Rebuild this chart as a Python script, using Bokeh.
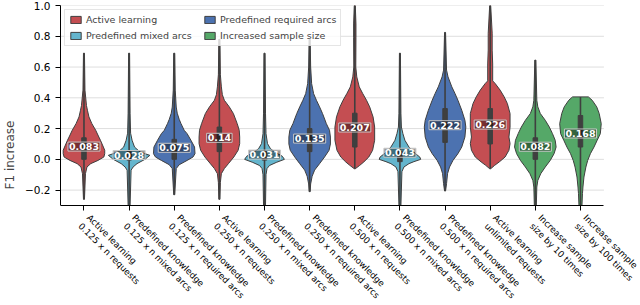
import math
from bokeh.plotting import figure
from bokeh.models import Range1d, FixedTicker, Legend, LegendItem
from bokeh.core.properties import value
from bokeh.embed import file_html
from bokeh.resources import INLINE

# ---------------- data ----------------
tick_labels = [
    "Active learning\n0.125 x n requests",
    "Predefined knowledge\n0.125 x n mixed arcs",
    "Predefined knowledge\n0.125 x n required arcs",
    "Active learning\n0.250 x n requests",
    "Predefined knowledge\n0.250 x n mixed arcs",
    "Predefined knowledge\n0.250 x n required arcs",
    "Active learning\n0.500 x n requests",
    "Predefined knowledge\n0.500 x n mixed arcs",
    "Predefined knowledge\n0.500 x n required arcs",
    "Active learning\nunlimited requests",
    "Increase sample\nsize by 10 times",
    "Increase sample\nsize by 100 times",
]
group_names = ["Active learning", "Predefined mixed arcs",
               "Predefined required arcs", "Increased sample size"]
group_of = [0, 1, 2, 0, 1, 2, 0, 1, 2, 0, 3, 3]
medians = [0.083, 0.028, 0.075, 0.14, 0.031, 0.135, 0.207, 0.043, 0.222, 0.226, 0.082, 0.168]
q1 = [0.0, -0.005, 0.0, 0.05, -0.005, 0.05, 0.08, -0.015, 0.11, 0.10, 0.0, 0.08]
q3 = [0.14, 0.05, 0.13, 0.21, 0.05, 0.20, 0.30, 0.05, 0.33, 0.33, 0.14, 0.285]

# violin outlines: F1-increase levels and half-widths (in category units)
prof_v = [
    [0.69, 0.45, 0.35, 0.319, 0.276, 0.232, 0.189, 0.145, 0.124, 0.080, 0.059, 0.037, 0.015, -0.007, -0.028, -0.05, -0.093, -0.26],
    [0.69, 0.3, 0.17, 0.124, 0.080, 0.048, 0.026, 0.0, -0.028, -0.05, -0.07, -0.30],
    [0.69, 0.45, 0.34, 0.30, 0.26, 0.232, 0.189, 0.167, 0.124, 0.08, 0.037, 0.015, -0.007, -0.035, -0.06, -0.23],
    [0.78, 0.55, 0.471, 0.42, 0.384, 0.341, 0.298, 0.232, 0.189, 0.145, 0.102, 0.059, 0.015, -0.028, -0.06, -0.093, -0.15, -0.26],
    [0.69, 0.3, 0.167, 0.102, 0.07, 0.045, 0.02, 0.0, -0.02, -0.04, -0.06, -0.10, -0.30],
    [0.78, 0.6, 0.492, 0.427, 0.384, 0.341, 0.298, 0.232, 0.189, 0.145, 0.10, 0.059, 0.015, -0.028, -0.07, -0.11, -0.16, -0.21],
    [1.0, 0.88, 0.79, 0.6, 0.536, 0.471, 0.428, 0.384, 0.341, 0.276, 0.21, 0.124, 0.059, 0.015, -0.017, -0.039, -0.061],
    [0.69, 0.3, 0.21, 0.167, 0.124, 0.08, 0.045, 0.015, 0.0, -0.015, -0.028, -0.05, -0.08, -0.30],
    [0.825, 0.58, 0.536, 0.471, 0.428, 0.384, 0.319, 0.254, 0.21, 0.145, 0.08, 0.037, -0.007, -0.05, -0.093, -0.158, -0.206],
    [1.0, 0.82, 0.71, 0.62, 0.51, 0.493, 0.45, 0.406, 0.363, 0.298, 0.21, 0.145, 0.102, 0.059, 0.015, -0.017, -0.039, -0.061],
    [0.645, 0.384, 0.341, 0.298, 0.254, 0.21, 0.167, 0.124, 0.08, 0.037, -0.007, -0.05, -0.093, -0.137, -0.18, -0.30],
    [0.406, 0.384, 0.341, 0.298, 0.232, 0.167, 0.124, 0.08, 0.037, -0.007, -0.05, -0.115, -0.18, -0.223, -0.30],
]
prof_w = [
    [0.011, 0.022, 0.055, 0.077, 0.11, 0.175, 0.26, 0.33, 0.365, 0.43, 0.46, 0.46, 0.44, 0.31, 0.15, 0.066, 0.033, 0.011],
    [0.011, 0.022, 0.033, 0.066, 0.12, 0.24, 0.46, 0.35, 0.175, 0.088, 0.044, 0.022],
    [0.011, 0.022, 0.044, 0.066, 0.11, 0.15, 0.22, 0.285, 0.37, 0.45, 0.46, 0.415, 0.285, 0.11, 0.044, 0.011],
    [0.011, 0.022, 0.044, 0.066, 0.11, 0.22, 0.31, 0.395, 0.44, 0.45, 0.45, 0.415, 0.32, 0.2, 0.11, 0.044, 0.022, 0.011],
    [0.011, 0.022, 0.033, 0.066, 0.13, 0.24, 0.395, 0.44, 0.26, 0.11, 0.055, 0.033, 0.022],
    [0.011, 0.022, 0.044, 0.088, 0.15, 0.22, 0.285, 0.37, 0.44, 0.46, 0.46, 0.43, 0.33, 0.22, 0.11, 0.055, 0.022, 0.011],
    [0.011, 0.026, 0.026, 0.022, 0.044, 0.099, 0.175, 0.26, 0.33, 0.405, 0.44, 0.44, 0.395, 0.31, 0.2, 0.11, 0.011],
    [0.011, 0.022, 0.033, 0.066, 0.11, 0.2, 0.31, 0.44, 0.46, 0.31, 0.2, 0.088, 0.044, 0.022],
    [0.011, 0.033, 0.066, 0.15, 0.22, 0.285, 0.37, 0.44, 0.46, 0.44, 0.37, 0.285, 0.175, 0.099, 0.055, 0.033, 0.011],
    [0.011, 0.044, 0.044, 0.055, 0.055, 0.11, 0.22, 0.31, 0.38, 0.44, 0.44, 0.415, 0.44, 0.415, 0.33, 0.2, 0.099, 0.011],
    [0.011, 0.033, 0.055, 0.11, 0.22, 0.31, 0.38, 0.44, 0.46, 0.415, 0.33, 0.22, 0.12, 0.055, 0.033, 0.022],
    [0.175, 0.26, 0.36, 0.415, 0.46, 0.44, 0.37, 0.30, 0.22, 0.16, 0.12, 0.077, 0.055, 0.044, 0.033],
]
y_ticks = [-0.2, 0.0, 0.2, 0.4, 0.6, 0.8, 1.0]
y_tick_labels = ["\u22120.2", "0.0", "0.2", "0.4", "0.6", "0.8", "1.0"]

# ---------------- style / layout ----------------
colors = ["#C44E52", "#64B5CD", "#4C72B0", "#55A868"]
dark = "#3f3f3f"
FONT = "DejaVu Sans"
Y0, Y1 = -0.3, 1.0          # visible value axis
X0, X1 = -0.52, 11.52       # visible category axis
W, H = 640, 304
LEFT, TOP = 53, 5
PLOT_W, PLOT_H = 550, 200   # pixel size of the axes box
frame_w, frame_h = W - LEFT, H - TOP
x_end = X0 + (X1 - X0) * frame_w / PLOT_W
y_start = Y1 - (Y1 - Y0) * frame_h / PLOT_H

p = figure(width=W, height=H, output_backend="svg", toolbar_location=None,
           x_range=Range1d(X0, x_end), y_range=Range1d(y_start, Y1),
           min_border_left=LEFT, min_border_right=0, min_border_top=TOP,
           min_border_bottom=0)
p.outline_line_color = None
p.xgrid.grid_line_color = None
p.ygrid.grid_line_color = None

xs = list(range(len(tick_labels)))

# horizontal grid lines limited to the axes box
p.segment(x0=[X0] * len(y_ticks), y0=y_ticks, x1=[X1] * len(y_ticks), y1=y_ticks,
          line_color="#dedede", line_width=1)

# violins grouped by colour
renderers = []
for g in range(4):
    pxs, pys = [], []
    for i in xs:
        if group_of[i] != g:
            continue
        v, w = prof_v[i], prof_w[i]
        pxs.append([i + a for a in w] + [i - a for a in reversed(w)])
        pys.append(list(v) + list(reversed(v)))
    r = p.patches(pxs, pys, fill_color=colors[g], fill_alpha=1.0,
                  line_color=dark, line_width=1)
    renderers.append(r)

# whiskers / tails
p.segment(x0=xs, y0=[max(pv[-1], Y0) for pv in prof_v], x1=xs, y1=[pv[0] for pv in prof_v],
          line_color=dark, line_width=1.6)
# IQR boxes
p.vbar(x=xs, width=0.1, bottom=q1, top=q3, fill_color=dark, line_color=dark)

# median labels
p.text(x=xs, y=medians, text=[f"{m:g}" for m in medians],
       text_align="center", text_baseline="middle",
       text_color="white", text_font=value(FONT), text_font_style="bold",
       text_font_size="9.5px",
       background_fill_color="black", background_fill_alpha=0.4,
       border_line_color="#c8c8c8", border_line_width=1, padding=1)

# rotated, left-aligned two-line category labels under the axis
p.text(x=xs, y=[Y0] * len(xs), text=tick_labels, angle=-math.pi / 4,
       x_offset=8, y_offset=7, text_align="left", text_baseline="top",
       text_font=value(FONT), text_font_size="8.8px", text_color="black",
       text_line_height=1.2)

# axes
p.xaxis.fixed_location = Y0
p.xaxis.bounds = (X0, X1)
p.xaxis.ticker = FixedTicker(ticks=xs)
p.xaxis.major_label_overrides = {i: "" for i in xs}
p.xaxis.major_label_text_font_size = "1px"
p.xaxis.major_label_standoff = 0
p.yaxis.bounds = (Y0, Y1)
p.yaxis.ticker = FixedTicker(ticks=y_ticks)
p.yaxis.major_label_overrides = {t: s for t, s in zip(y_ticks, y_tick_labels)}
p.yaxis.major_label_text_font = FONT
p.yaxis.major_label_text_font_size = "10.5px"
p.yaxis.axis_label = "F1 increase"
p.yaxis.axis_label_text_font = FONT
p.yaxis.axis_label_text_font_size = "12px"
p.yaxis.axis_label_text_font_style = "normal"
p.yaxis.axis_label_standoff = 5
for ax in (p.xaxis, p.yaxis):
    ax.axis_line_color = "black"
    ax.major_tick_line_color = "black"
    ax.major_tick_out = 5
    ax.major_tick_in = 0
    ax.minor_tick_line_color = None
    ax.major_label_text_color = "black"

legend = Legend(items=[LegendItem(label=group_names[g], renderers=[renderers[g]]) for g in range(4)],
                location="top_left", ncols=2)
legend.label_text_font = FONT
legend.label_text_font_size = "9.5px"
legend.glyph_width = 13
legend.glyph_height = 9
legend.label_standoff = 4
legend.label_width = 112
legend.spacing = 5
legend.padding = 4
legend.margin = 4
legend.label_height = 10
legend.border_line_color = "#cccccc"
legend.background_fill_alpha = 0.8
p.add_layout(legend)

open("out.html", "w").write(file_html(p, INLINE))
